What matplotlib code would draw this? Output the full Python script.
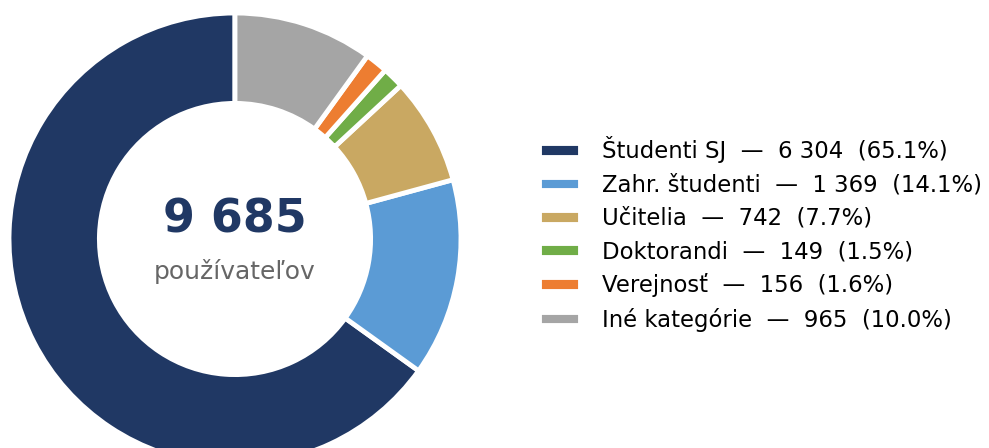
import matplotlib
matplotlib.use("Agg")
import matplotlib.pyplot as plt

# Data
categories = ["Študenti SJ", "Zahr. študenti", "Učitelia", "Doktorandi", "Verejnosť", "Iné kategórie"]
counts = [6304, 1369, 742, 149, 156, 965]
colors = ["#203864", "#5b9bd5", "#c9a862", "#70ad47", "#ed7d31", "#a5a5a5"]
center_label = "používateľov"

total = sum(counts)

def fmt_num(n):
    return f"{n:,}".replace(",", " ")

labels = [f"{c}  —  {fmt_num(v)}  ({v / total * 100:.1f}%)" for c, v in zip(categories, counts)]

W, H = 989, 448
fig = plt.figure(figsize=(W / 100, H / 100), dpi=100)

# donut axes (center ~ (235, 239) px, radius ~226 px)
cx, cy, r = 235, 239, 226
ax = fig.add_axes([(cx - r) / W, (H - cy - r) / H, 2 * r / W, 2 * r / H])
wedges, _ = ax.pie(counts, colors=colors, startangle=90, counterclock=True, radius=1,
                   wedgeprops=dict(width=0.4, edgecolor="white", linewidth=3.5))
ax.set_xlim(-1, 1)
ax.set_ylim(-1, 1)
ax.set_aspect("equal")
ax.axis("off")

ax.text(0, 0.085, fmt_num(total), ha="center", va="center", fontsize=33,
        fontweight="bold", color="#203864")
ax.text(0, -0.145, center_label, ha="center", va="center", fontsize=18, color="#666666")

fig.legend(wedges, labels, loc="center left", bbox_to_anchor=(521 / W, 1 - 234 / H),
           frameon=False, fontsize=16.4, handlelength=1.8, handleheight=0.55,
           handletextpad=0.95, labelspacing=0.45, borderpad=0.3)

fig.savefig("out.png", dpi=100)
